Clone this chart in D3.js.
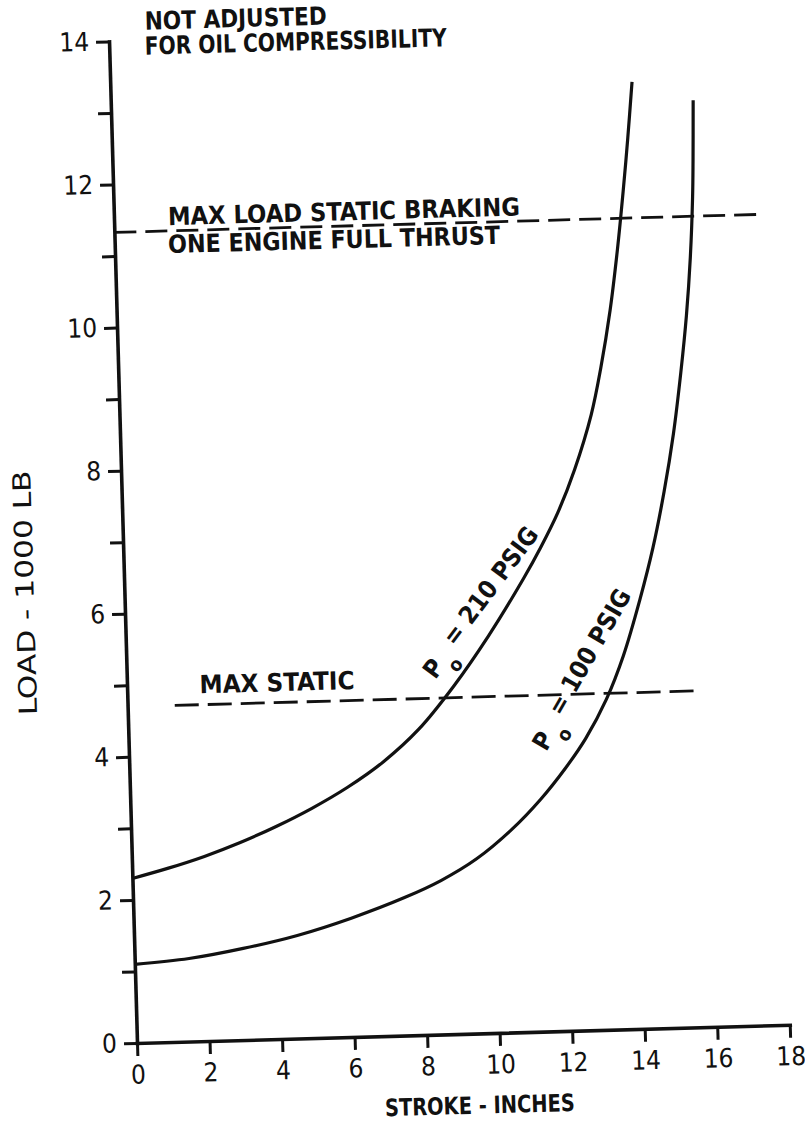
<!DOCTYPE html>
<html><head><meta charset="utf-8">
<script src="https://cdn.jsdelivr.net/npm/d3@7"></script>
<style>
body{margin:0;background:#fff;}
svg{display:block;}
text{font-family:"DejaVu Sans Condensed","DejaVu Sans",sans-serif;font-stretch:condensed;fill:#111;}
</style></head><body>
<svg id="c" width="805" height="1134"></svg>
<script>
// ---- data ----
const xTicks = [0,2,4,6,8,10,12,14,16,18];
const yTicks = [0,1,2,3,4,5,6,7,8,9,10,11,12,13,14];
const yTickLabels = [0,2,4,6,8,10,12,14];

// P0 = 210 PSIG curve
const stroke210 = [0,1,2,3,4,5,6,7,8,9,10,11,11.5,12,12.5,13,13.3,13.6,13.85,14.05,14.22,14.38];
const load210   = [2.30,2.43,2.58,2.76,2.97,3.21,3.49,3.83,4.27,4.86,5.55,6.33,6.76,7.24,7.84,8.6,9.25,10.05,10.9,11.7,12.45,13.23];
// P0 = 100 PSIG curve
const stroke100 = [0,1.5,3,4.5,6,7.5,8.5,9.5,10.5,11.3,12.0,12.6,13.2,13.7,14.2,14.6,14.95,15.25,15.5,15.7,15.85,15.96,16.0,16.05];
const load100   = [1.10,1.16,1.28,1.44,1.66,1.93,2.15,2.44,2.84,3.24,3.66,4.08,4.62,5.22,6.0,6.72,7.5,8.3,9.15,9.95,10.75,11.6,12.1,12.95];

// reference lines
const maxBrakingLoad = 11.33, maxBrakingStroke = [0,17.7];
const maxStaticLoad = 4.7,  maxStaticStroke = [1.3,15.8];

// ---- layout ----
const origin = [137,1043], tilt = -1.6;
const x = d3.scaleLinear().domain([0,18]).range([0,653]);
const y = d3.scaleLinear().domain([0,14]).range([0,-1002]);
const FONT = '"DejaVu Sans Condensed","DejaVu Sans",sans-serif';
const INK = "#111";

const svg = d3.select("#c");
const g = svg.append("g").attr("transform",`translate(${origin[0]},${origin[1]}) rotate(${tilt})`);

// axes
const xAxis = d3.axisBottom(x).tickValues(xTicks).tickSize(13).tickSizeOuter(0).tickPadding(9).tickFormat(d3.format("d"));
const yAxis = d3.axisLeft(y).tickValues(yTicks).tickSize(13).tickSizeOuter(0).tickPadding(7)
  .tickFormat(d => yTickLabels.includes(d) ? d : "");

function styleAxis(sel){
  sel.attr("font-family",FONT).attr("font-size",26);
  sel.select(".domain").attr("stroke",INK).attr("stroke-width",3.6).attr("stroke-linecap","square");
  sel.selectAll(".tick line").attr("stroke",INK).attr("stroke-width",3);
  sel.selectAll(".tick text").attr("fill",INK);
}
g.append("g").call(xAxis).call(styleAxis);
g.append("g").call(yAxis).call(styleAxis);

// curves
const line = d3.line().x(d=>x(d[0])).y(d=>y(d[1])).curve(d3.curveCatmullRom.alpha(0.5));
g.append("path").datum(d3.zip(stroke210,load210)).attr("d",line)
  .attr("fill","none").attr("stroke",INK).attr("stroke-width",3.2);
g.append("path").datum(d3.zip(stroke100,load100)).attr("d",line)
  .attr("fill","none").attr("stroke",INK).attr("stroke-width",3.2);

// dashed limit lines
const straight = d3.line().x(d=>x(d[0])).y(d=>y(d[1]));
g.append("path").datum(maxBrakingStroke.map(s=>[s,maxBrakingLoad])).attr("d",straight)
  .attr("stroke",INK).attr("stroke-width",2.8).attr("stroke-dasharray","22,9").attr("fill","none");
g.append("path").datum(maxStaticStroke.map(s=>[s,maxStaticLoad])).attr("d",straight)
  .attr("stroke",INK).attr("stroke-width",2.8).attr("stroke-dasharray","24,9").attr("fill","none");

// annotations
function label(str, sx, ly, opts={}){
  const t = g.append("text").attr("x",x(sx)).attr("y",y(ly))
    .attr("font-size",opts.size||25).attr("font-weight",opts.weight||"bold")
    .attr("text-anchor",opts.anchor||"start").text(str);
  if(opts.len) t.attr("textLength",opts.len).attr("lengthAdjust","spacingAndGlyphs");
  if(opts.rot!=null) t.attr("transform",`rotate(${opts.rot},${x(sx)},${y(ly)})`);
  return t;
}
label("NOT ADJUSTED", 1.0, 14.15, {len:182});
label("FOR OIL COMPRESSIBILITY", 0.98, 13.8, {len:302});
label("MAX LOAD STATIC BRAKING", 1.49, 11.41, {len:352});
label("ONE ENGINE FULL THRUST", 1.47, 11.02, {len:332});
label("MAX STATIC", 2.0, 4.86, {len:155});
label("STROKE - INCHES", 9.4, -1.12, {len:190, anchor:"middle", size:24});
label("LOAD - 1000 LB", -2.5, 6.33, {len:245, anchor:"middle", rot:-90, weight:"normal", size:25});

function curveLabel(sx, ly, rot, rest){
  const t = g.append("text").attr("x",x(sx)).attr("y",y(ly))
    .attr("font-size",25).attr("font-weight","bold")
    .attr("transform",`rotate(${rot},${x(sx)},${y(ly)})`);
  t.append("tspan").text("P");
  t.append("tspan").attr("dy","0.7em").attr("dx","2").attr("font-size",19).text("o");
  t.append("tspan").attr("dy","-0.7em").text(" " + rest);
}
curveLabel(8.5, 4.95, -51.4, "= 210 PSIG");
curveLabel(11.5, 3.9, -58.4, "= 100 PSIG");
</script>
</body></html>
